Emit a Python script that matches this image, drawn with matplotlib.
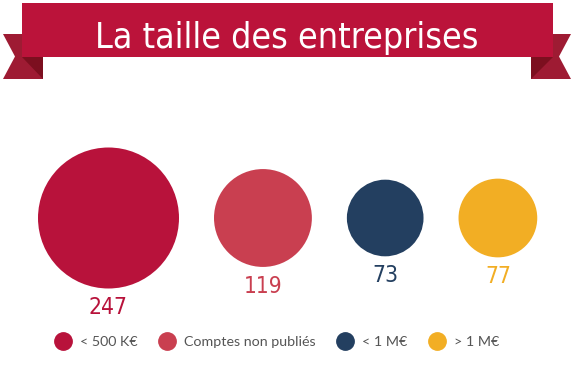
import numpy as np
import matplotlib
matplotlib.use("Agg")
from matplotlib import pyplot as plt
from matplotlib import patches
from matplotlib.lines import Line2D
from matplotlib import font_manager

# data
categories = ["< 500 K\u20ac", "Comptes non publi\u00e9s", "< 1 M\u20ac", "> 1 M\u20ac"]
counts = [247, 119, 73, 77]
colors = ["#b8123b", "#c93f50", "#233f60", "#f2ae24"]
title = "La taille des entreprises"

# look for a narrow face (the original uses a condensed sans)
narrow = None
for f in font_manager.fontManager.ttflist:
    tag = (f.name + " " + str(f.stretch)).lower()
    if ("narrow" in tag or "condensed" in tag) and f.style == "normal" \
            and f.weight in (400, "normal", "regular", "book"):
        if "semi" in tag or "extra" in tag or "ultra" in tag:
            continue
        narrow = font_manager.FontProperties(fname=f.fname)
        break
if narrow is None:
    narrow = font_manager.FontProperties(family="Roboto")
body = font_manager.FontProperties(family="Lato")

W, H = 574, 372
fig = plt.figure(figsize=(W / 100, H / 100), dpi=100)
ax = fig.add_axes([0, 0, 1, 1])
ax.set_xlim(0, W)
ax.set_ylim(H, 0)
ax.axis("off")
renderer = fig.canvas.get_renderer()


def fit(txt, target_w, size):
    # shrink the font until the text is as wide as in the original
    txt.set_fontsize(size)
    w = txt.get_window_extent(renderer).width
    if w > target_w:
        txt.set_fontsize(size * target_w / w)


##################################################
# Banner
##################################################
ribbon = "#bb133a"
tail = "#9e1b33"
fold = "#7c0f1f"
top, bot = 3, 57
left, right = 22, 553
ty0, ty1 = 34, 79
for side in (-1, 1):
    if side < 0:
        x_out, x_in, x_notch, x_edge = 3, 43, 15, left
    else:
        x_out, x_in, x_notch, x_edge = W - 3, W - 43, W - 15, right
    ax.add_patch(patches.Polygon(
        [(x_out, ty0), (x_in, ty0), (x_in, ty1), (x_out, ty1),
         (x_notch, (ty0 + ty1) / 2)], closed=True, color=tail, lw=0))
    ax.add_patch(patches.Polygon(
        [(x_edge, bot), (x_in, bot), (x_in, ty1)], closed=True,
        color=fold, lw=0))
ax.add_patch(patches.Rectangle((left, top), right - left, bot - top,
                               color=ribbon, lw=0))
t = ax.text(W / 2, 48, title, color="white", fontproperties=narrow,
            ha="center", va="baseline")
fit(t, 385, 32)

##################################################
# Circles (area proportional to the count)
##################################################
r_max = 70.5
radii = r_max * np.sqrt(np.array(counts) / max(counts))
gap = 35
cy = 218
x = 38
for n, r, c in zip(counts, radii, colors):
    cx = x + r
    ax.add_patch(patches.Circle((cx, cy), r, color=c, lw=0))
    lab = ax.text(cx, cy + r + 8, str(n), color=c, fontproperties=narrow,
                  ha="center", va="top")
    fit(lab, 13 * len(str(n)), 18)
    x = cx + r + gap

##################################################
# Legend
##################################################
body.set_size(10.3)
handles = [Line2D([], [], marker="o", ls="", ms=12.5, mfc=c, mec=c)
           for c in colors]
leg = ax.legend(handles, categories, ncol=4, frameon=False,
                loc="center", bbox_to_anchor=(0.483, 1 - 342 / H),
                prop=body, handlelength=1.0, handletextpad=0.7,
                columnspacing=1.55, borderpad=0, borderaxespad=0)
for t in leg.get_texts():
    t.set_color("#555555")

fig.savefig("out.png", dpi=100)
